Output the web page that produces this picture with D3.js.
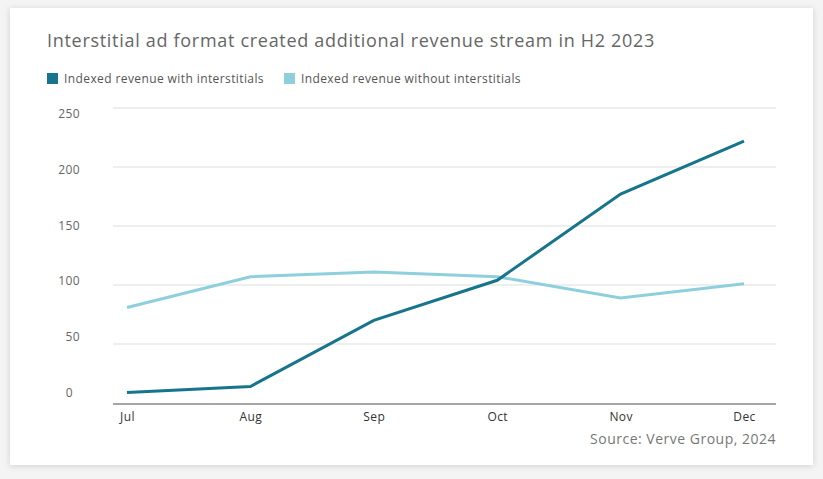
<!DOCTYPE html>
<html><head><meta charset="utf-8">
<script src="https://cdn.jsdelivr.net/npm/d3@7"></script>
<style>body{margin:0;background:#f4f4f4;font-family:"Open Sans",sans-serif}</style>
</head><body><svg id="c" width="823" height="479"></svg>
<script>
const months = ["Jul","Aug","Sep","Oct","Nov","Dec"];
const withInter = [9,14,70,104,177,222];
const withoutInter = [81,107,111,107,89,101];
const yTicks = [0,50,100,150,200,250];
const seriesNames = ["Indexed revenue with interstitials","Indexed revenue without interstitials"];
const colors = ["#16758c","#8ecfdd"];

const svg = d3.select("#c");
svg.append("defs").html('<filter id="sh" x="-5%" y="-5%" width="110%" height="110%"><feDropShadow dx="0" dy="1" stdDeviation="3" flood-opacity="0.15"/></filter>');
svg.append("rect").attr("x",10).attr("y",8).attr("width",803).attr("height",457).attr("fill","#fff").attr("filter","url(#sh)");

svg.append("text").attr("x",47).attr("y",47).attr("font-size",18).attr("letter-spacing",0.7).attr("fill","#666").text("Interstitial ad format created additional revenue stream in H2 2023");

const lg = svg.append("g");
let lx=47;
seriesNames.forEach((n,i)=>{
  lg.append("rect").attr("x",lx).attr("y",73).attr("width",11).attr("height",11).attr("fill",colors[i]);
  const t=lg.append("text").attr("x",lx+17).attr("y",83).attr("font-size",12).attr("letter-spacing",0.4).attr("fill","#555").text(n);
  lx += 17 + t.node().getComputedTextLength() + 20;
});

const x = d3.scalePoint().domain(months).range([127,744]);
const y = d3.scaleLinear().domain([0,250]).range([403,108]);
const yl = d3.scaleLinear().domain([0,250]).range([397,118]);

svg.append("g").selectAll("line").data(yTicks.filter(d=>d>0)).join("line")
  .attr("x1",113).attr("x2",776).attr("y1",d=>y(d)).attr("y2",d=>y(d)).attr("stroke","#ddd");
svg.append("line").attr("x1",113).attr("x2",776).attr("y1",y(0)+1).attr("y2",y(0)+1).attr("stroke","#888").attr("stroke-width",1.5);
svg.append("g").selectAll("text").data(yTicks).join("text")
  .attr("x",d=>d===0?73:80).attr("text-anchor","end").attr("y",yl).attr("font-size",12).attr("letter-spacing",0.4).attr("fill","#666").text(d=>d);

const xa = svg.append("g").attr("transform","translate(0,404)").call(d3.axisBottom(x).tickSize(0).tickPadding(8));
xa.select(".domain").remove();
xa.selectAll("text").attr("font-size",12).attr("letter-spacing",0.4).attr("fill","#333").attr("font-family","Open Sans");

const line = d3.line().x((d,i)=>x(months[i])).y(d=>y(d));
[withoutInter, withInter].forEach((s,k)=>{
  svg.append("path").attr("d",line(s)).attr("fill","none").attr("stroke",k===0?colors[1]:colors[0]).attr("stroke-width",3);
});

svg.append("text").attr("x",776).attr("y",444).attr("text-anchor","end").attr("font-size",14).attr("letter-spacing",0.5).attr("fill","#777").text("Source: Verve Group, 2024");
</script></body></html>
